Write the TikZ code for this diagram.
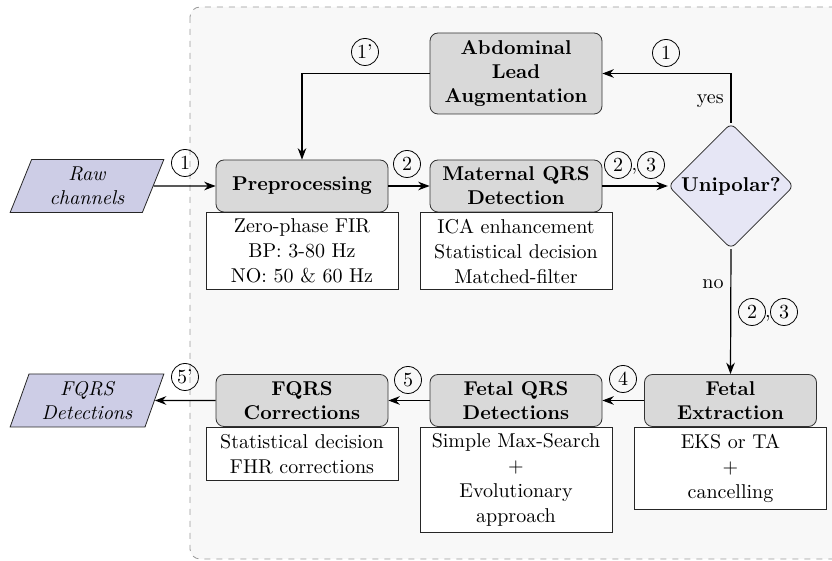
\documentclass[tikz,border=0pt]{standalone}
\usetikzlibrary{positioning, shapes.geometric, arrows.meta}

\definecolor{bgfill}{RGB}{248,248,248}
\definecolor{procfill}{RGB}{217,217,217}
\definecolor{iofill}{RGB}{205,205,230}
\definecolor{decfill}{RGB}{230,230,245}

\tikzset{
  process/.style={draw=black!80, fill=procfill, rounded corners=4pt, minimum width=86pt,
    minimum height=26pt, align=center, font=\bfseries, inner sep=2pt},
  detail/.style={draw=black!85, fill=white, text width=92pt, align=center, inner xsep=2pt,
    inner ysep=3pt, font=\fontsize{10}{12.5}\selectfont},
  io/.style={trapezium, trapezium left angle=70, trapezium right angle=110, trapezium stretches=true,
    draw=black!85, fill=iofill, minimum width=77pt, minimum height=26.5pt, align=center,
    font=\itshape, inner sep=1pt},
  decision/.style={diamond, aspect=1, draw=black!85, fill=decfill, rounded corners=3pt,
    minimum size=62pt, font=\bfseries, inner sep=1pt},
  stepnum/.style={circle, draw, inner sep=1pt, minimum size=13.5pt},
  flow/.style={-Stealth, line width=0.6pt}
}

\begin{document}
\begin{tikzpicture}[x=0.5pt, y=-0.5pt]
  \useasboundingbox (0,0) rectangle (832,561);
  % background
  \draw[dashed, draw=black!40, fill=bgfill, rounded corners=5pt] (190,7) rectangle (860,559);

  % upper row
  \node[io] (raw) at (87,186) {Raw\\channels};
  \node[process] (prep) at (302,186) {Preprocessing};
  \node[detail, below=0pt of prep] (prepinfo) {Zero-phase FIR\\BP: 3-80 Hz\\NO: 50 \& 60 Hz};
  \node[process] (mqrs) at (516,186) {Maternal QRS\\Detection};
  \node[detail, below=0pt of mqrs] (mqrsinfo) {ICA enhancement\\Statistical decision\\Matched-filter};
  \node[decision] (unip) at (731,186) {Unipolar?};
  \node[process, minimum height=40.5pt] (abd) at (516,73.5) {Abdominal\\Lead\\Augmentation};

  % lower row
  \node[process] (fext) at (730.5,400.5) {Fetal\\Extraction};
  \node[detail, below=0pt of fext, minimum height=41pt] (fextinfo) {EKS or TA\\+\\cancelling};
  \node[process] (fqrs) at (516,400.5) {Fetal QRS\\Detections};
  \node[detail, below=0pt of fqrs] (fqrsinfo) {Simple Max-Search\\+\\Evolutionary\\approach};
  \node[process] (corr) at (302,400.5) {FQRS\\Corrections};
  \node[detail, below=0pt of corr, minimum height=26.5pt] (corrinfo) {Statistical decision\\FHR corrections};
  \node[io] (out) at (87,400.5) {FQRS\\Detections};

  % step numbers
  \node[stepnum] (s1in) at (185,163) {1};
  \node[stepnum] (s2) at (407,164) {2};
  \node[stepnum] (s2m) at (618,165) {2};
  \node[inner sep=0pt, anchor=base] (cm1) at (634.5,171) {,};
  \node[stepnum] (s3m) at (651,165) {3};
  \node[stepnum] (s1yes) at (666,53) {1};
  \node[stepnum] (s1p) at (365,52) {1'};
  \node[stepnum] (s2f) at (752,312) {2};
  \node[inner sep=0pt, anchor=base] (cm2) at (768,318) {,};
  \node[stepnum] (s3f) at (784,312) {3};
  \node[stepnum] (s4) at (623,379) {4};
  \node[stepnum] (s5) at (408,380) {5};
  \node[stepnum] (s5p) at (185,377) {5'};

  % flow
  \draw[flow] (raw.east) -- (prep.west);
  \draw[flow] (prep.east) -- (mqrs.west);
  \draw[flow] (mqrs.east) -- (unip.west);
  \draw[flow] (unip.north) |- node[pos=0.22, left] {yes} (abd.east);
  \draw[flow] (abd.west) -| (prep.north);
  \draw[flow] (unip.south) -- node[pos=0.28, left] {no} (fext.north);
  \draw[flow] (fext.west) -- (fqrs.east);
  \draw[flow] (fqrs.west) -- (corr.east);
  \draw[flow] (corr.west) -- (out.east);
\end{tikzpicture}
\end{document}
